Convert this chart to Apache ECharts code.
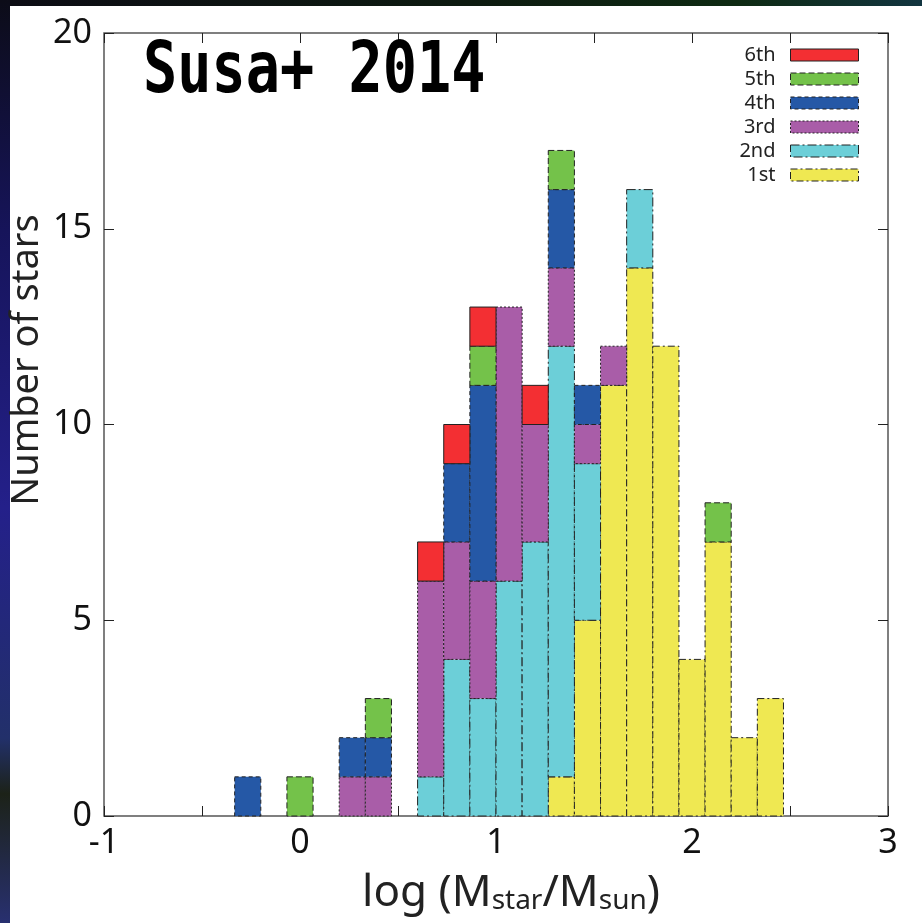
<!DOCTYPE html>
<html>
<head>
<meta charset="utf-8">
<title>Susa+ 2014 stellar mass histogram</title>
<script src="https://cdn.jsdelivr.net/npm/echarts@6/dist/echarts.min.js"></script>
<style>
  html, body { margin: 0; padding: 0; background: #ffffff; }
  #chart { width: 922px; height: 923px; }
</style>
</head>
<body>
<div id="chart"></div>
<script>
// Histogram bins in log(M/Msun): regular width starting at binStart
const binStart = -1 / 3;
const binWidth = 2 / 15;

// Star counts per bin for each generation (21 bins)
const gen1st = [0, 0, 0, 0, 0, 0, 0, 0, 0, 0, 0, 0, 1, 5, 11, 14, 12, 4, 7, 2, 3];
const gen2nd = [0, 0, 0, 0, 0, 0, 0, 1, 4, 3, 6, 7, 11, 4, 0, 2, 0, 0, 0, 0, 0];
const gen3rd = [0, 0, 0, 0, 1, 1, 0, 5, 3, 3, 7, 3, 2, 1, 1, 0, 0, 0, 0, 0, 0];
const gen4th = [1, 0, 0, 0, 1, 1, 0, 0, 2, 5, 0, 0, 2, 1, 0, 0, 0, 0, 0, 0, 0];
const gen5th = [0, 0, 1, 0, 0, 1, 0, 0, 0, 1, 0, 0, 1, 0, 0, 0, 0, 0, 1, 0, 0];
const gen6th = [0, 0, 0, 0, 0, 0, 0, 1, 1, 1, 0, 1, 0, 0, 0, 0, 0, 0, 0, 0, 0];

const xTicks = [-1, 0, 1, 2, 3];
const yTicks = [0, 5, 10, 15, 20];

// Stack order bottom -> top
const generations = [
  { name: '1st', counts: gen1st, color: '#efe852', dash: [7, 3, 2, 3] },
  { name: '2nd', counts: gen2nd, color: '#6ccfd8', dash: [9, 3, 2, 3] },
  { name: '3rd', counts: gen3rd, color: '#a95da8', dash: [2, 2] },
  { name: '4th', counts: gen4th, color: '#2558a6', dash: [4, 3] },
  { name: '5th', counts: gen5th, color: '#74c24a', dash: [6, 3] },
  { name: '6th', counts: gen6th, color: '#f32f33', dash: null }
];

// Build stacked rectangles [x0, x1, yBottom, yTop]
const base = new Array(gen1st.length).fill(0);
const series = generations.map(function (g) {
  const rects = [];
  g.counts.forEach(function (c, i) {
    if (c > 0) {
      const x0 = binStart + i * binWidth;
      rects.push([x0, x0 + binWidth, base[i], base[i] + c]);
      base[i] += c;
    }
  });
  return {
    name: g.name,
    type: 'custom',
    itemStyle: { color: g.color, borderColor: '#222', borderWidth: 1, borderType: g.dash || 'solid' },
    encode: { x: [0, 1], y: [2, 3] },
    data: rects,
    renderItem: function (params, api) {
      const p0 = api.coord([api.value(0), api.value(3)]);
      const p1 = api.coord([api.value(1), api.value(2)]);
      return {
        type: 'rect',
        shape: { x: p0[0], y: p0[1], width: p1[0] - p0[0], height: p1[1] - p0[1] },
        style: {
          fill: g.color,
          stroke: '#222',
          lineWidth: 1,
          lineDash: g.dash
        }
      };
    }
  };
});

const tickFont = { fontFamily: 'Noto Sans', fontSize: 34, color: '#111' };
const tickStyle = { inside: true, length: 10, lineStyle: { color: '#222', width: 1 } };

const chart = echarts.init(document.getElementById('chart'));
chart.setOption({
  animation: false,
  backgroundColor: '#ffffff',
  grid: {
    left: 104, right: 34, top: 33, bottom: 107,
    outerBoundsMode: 'none',
    show: true, borderColor: '#555', borderWidth: 1.5, backgroundColor: 'transparent'
  },
  legend: {
    orient: 'vertical',
    right: 63,
    top: 45,
    align: 'right',
    padding: 0,
    itemWidth: 68,
    itemHeight: 12,
    itemGap: 4,
    icon: 'rect',
    textStyle: { fontFamily: 'Noto Sans', fontSize: 20, color: '#222', padding: [0, 10, 0, 0] },
    data: generations.slice().reverse().map(function (g) {
      return {
        name: g.name,
        icon: 'rect',
        itemStyle: { color: g.color, borderColor: '#222', borderWidth: 1, borderType: g.dash || 'solid' }
      };
    })
  },
  xAxis: [
    {
      type: 'value', position: 'bottom', min: -1, max: 3, interval: 0.5,
      name: '{t|log (M}{s|star}{t|/M}{s|sun}{t|)}',
      nameLocation: 'middle', nameGap: 47,
      nameTextStyle: {
        padding: [0, 0, 0, 30],
        rich: {
          t: { fontFamily: 'Noto Sans', fontSize: 44, color: '#222', lineHeight: 52, verticalAlign: 'bottom' },
          s: { fontFamily: 'Noto Sans', fontSize: 28, color: '#222', lineHeight: 42, verticalAlign: 'bottom' }
        }
      },
      axisLine: { show: false, onZero: false },
      axisTick: tickStyle,
      axisLabel: Object.assign({
        margin: 10,
        formatter: function (v) { return xTicks.indexOf(v) >= 0 ? String(v) : ''; }
      }, tickFont),
      splitLine: { show: false }
    },
    {
      type: 'value', position: 'top', min: -1, max: 3, interval: 0.5,
      axisLine: { show: false, onZero: false },
      axisTick: tickStyle,
      axisLabel: { show: false },
      splitLine: { show: false }
    }
  ],
  yAxis: [
    {
      type: 'value', position: 'left', min: 0, max: 20, interval: 5,
      axisLine: { show: false, onZero: false },
      axisTick: tickStyle,
      axisLabel: Object.assign({
        margin: 12,
        formatter: function (v) { return yTicks.indexOf(v) >= 0 ? String(v) : ''; }
      }, tickFont),
      splitLine: { show: false }
    },
    {
      type: 'value', position: 'right', min: 0, max: 20, interval: 5,
      axisLine: { show: false, onZero: false },
      axisTick: tickStyle,
      axisLabel: { show: false },
      splitLine: { show: false }
    }
  ],
  graphic: [
    {
      type: 'rect', left: 0, top: 0, silent: true, z: 100,
      shape: { width: 922, height: 6 },
      style: {
        fill: new echarts.graphic.LinearGradient(0, 0, 1, 0, [
          { offset: 0, color: '#0c0c14' },
          { offset: 0.5, color: '#0d1a10' },
          { offset: 0.8, color: '#0e2a12' },
          { offset: 1, color: '#123540' }
        ])
      }
    },
    {
      type: 'rect', left: 0, top: 0, silent: true, z: 100,
      shape: { width: 10, height: 923 },
      style: {
        fill: new echarts.graphic.LinearGradient(0, 0, 0, 1, [
          { offset: 0, color: '#0c0c18' },
          { offset: 0.25, color: '#16145a' },
          { offset: 0.55, color: '#24208a' },
          { offset: 0.8, color: '#22306a' },
          { offset: 0.86, color: '#1c2218' },
          { offset: 1, color: '#283070' }
        ])
      }
    },
    {
      // y-axis title, placed above the plot centre
      type: 'text', x: 27, y: 360, rotation: Math.PI / 2, z: 100,
      style: {
        text: 'Number of stars',
        font: '38px "Noto Sans"',
        fill: '#222',
        textAlign: 'center',
        textVerticalAlign: 'middle'
      }
    },
    {
      type: 'text', x: 143, y: 73, scaleX: 0.79, z: 100,
      style: {
        text: 'Susa+ 2014',
        font: 'bold 72px "DejaVu Sans Mono"',
        fill: '#000',
        textVerticalAlign: 'middle'
      }
    }
  ],
  series: series
});
</script>
</body>
</html>
